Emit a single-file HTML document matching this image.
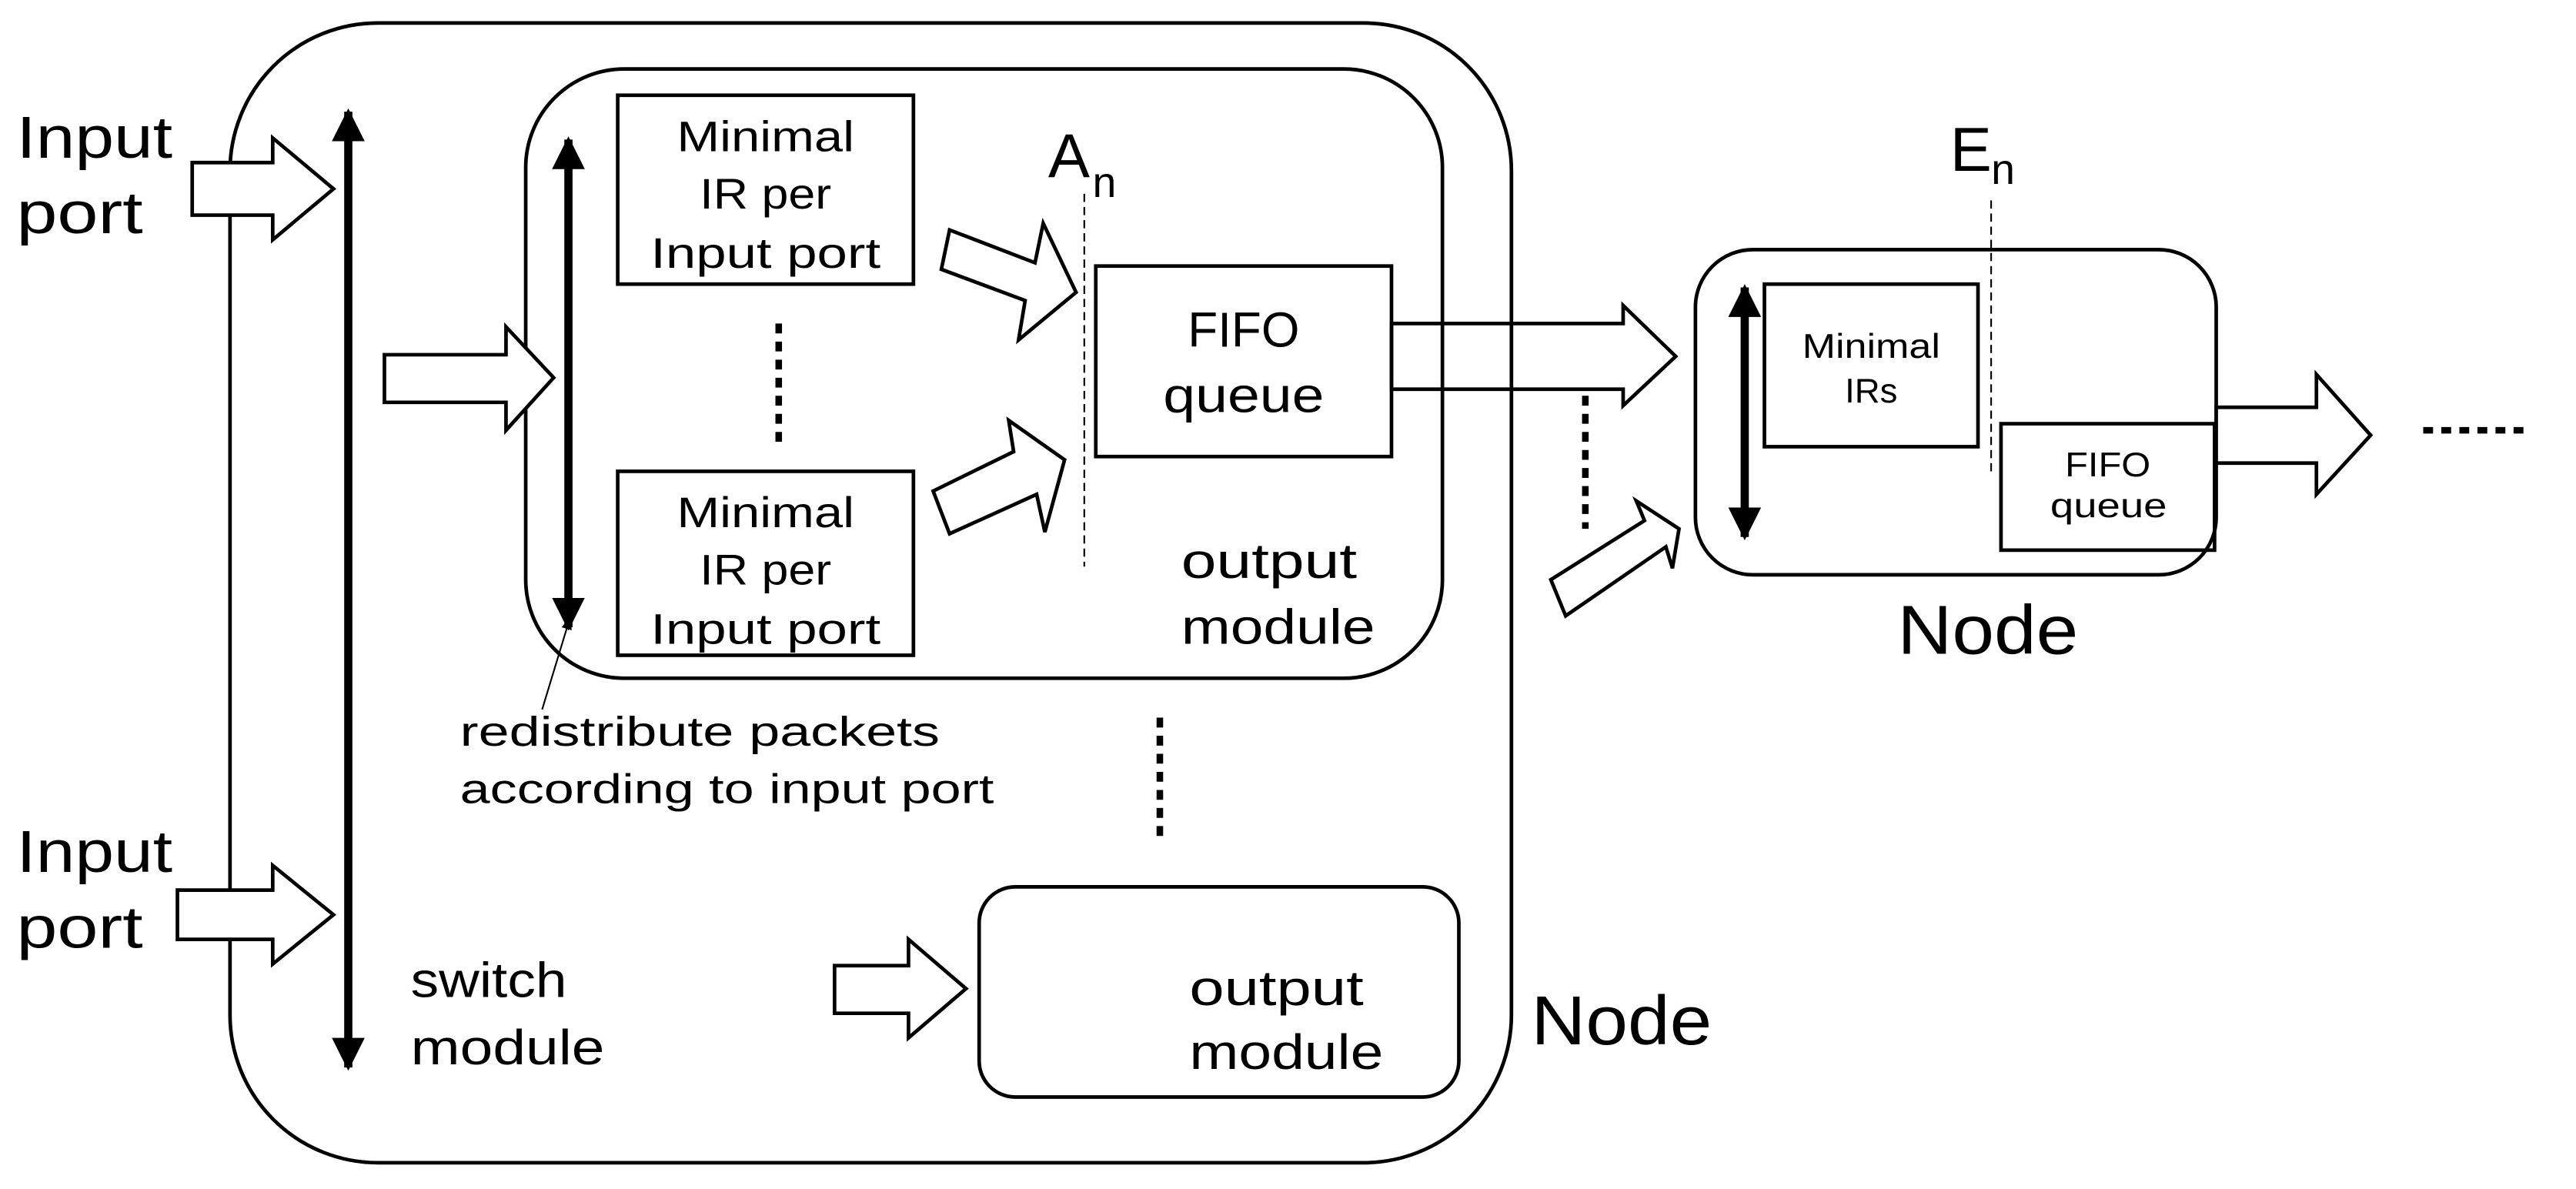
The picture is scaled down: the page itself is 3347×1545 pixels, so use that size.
<!DOCTYPE html>
<html><head><style>html,body{margin:0;padding:0;background:#fff}svg{display:block}text{font-family:"Liberation Sans",sans-serif;fill:#000}</style></head><body>
<svg width="3347" height="1545" viewBox="0 0 1568 724" preserveAspectRatio="none" xmlns="http://www.w3.org/2000/svg">
<defs>
<marker id="ah" viewBox="0 0 10 10" refX="9" refY="5" markerWidth="4" markerHeight="4" orient="auto-start-reverse"><path d="M0,0L10,5L0,10z" fill="#000"/></marker>
<marker id="sm" viewBox="0 0 10 10" refX="9" refY="5" markerWidth="8" markerHeight="8" orient="auto"><path d="M0,1L10,5L0,9z" fill="#000"/></marker>
</defs>
<g fill="none" stroke="#000" stroke-width="2.2">
<rect x="140" y="14" width="780" height="694" rx="90"/>
<rect x="320" y="42" width="558" height="371" rx="60" fill="#fff"/>
<rect x="596" y="540" width="292" height="128" rx="22"/>
<rect x="1032" y="152" width="317" height="198" rx="35"/>
<rect x="376" y="58" width="180" height="115"/>
<rect x="376" y="287" width="180" height="112"/>
<rect x="667" y="162" width="180" height="116"/>
<rect x="1074" y="173" width="130" height="99"/>
<rect x="1218" y="258" width="130" height="77"/>
</g>
<g stroke="#000" stroke-width="5" fill="none">
<line x1="212" y1="68" x2="212" y2="650" marker-start="url(#ah)" marker-end="url(#ah)"/>
<line x1="346" y1="85" x2="346" y2="382" marker-start="url(#ah)" marker-end="url(#ah)"/>
<line x1="1062" y1="175" x2="1062" y2="327" marker-start="url(#ah)" marker-end="url(#ah)"/>
</g>
<g stroke="#000" stroke-width="1" stroke-dasharray="5,3">
<line x1="660" y1="118" x2="660" y2="345"/>
<line x1="1212" y1="122" x2="1212" y2="290"/>
</g>
<g stroke="#000" stroke-width="4" stroke-dasharray="6,5">
<line x1="474" y1="197" x2="474" y2="272"/>
<line x1="706" y1="437" x2="706" y2="512"/>
<line x1="965" y1="241" x2="965" y2="322"/>
<line x1="1475" y1="262" x2="1540" y2="262"/>
</g>
<g fill="#fff" stroke="#000" stroke-width="2.2" stroke-linejoin="miter">
<path d="M117,99H166V84L203,115L166,146V131H117Z"/>
<path d="M108,542H166V527L203,557L166,587V572H108Z"/>
<path d="M234,216H308V199L337,230L308,262V245H234Z"/>
<path d="M508,588H553V572L588,602L553,632V617H508Z"/>
<path d="M1349,248H1410V228L1443,265L1410,301V282H1349Z"/>
<path d="M847,197H988V186L1020,217L988,247V237H847Z" fill="none"/>
<path d="M578,140L630,160L635,136L655,178L620,207L624,183L573,164Z"/>
<path d="M568,299L617,275L614,256L648,280L636,324L631,301L578,325Z"/>
<path d="M944,353L1001,317L996,305L1022,322L1018,346L1014,333L953,375Z"/>
</g>
<line x1="330" y1="432" x2="347" y2="376" stroke="#000" stroke-width="1" marker-end="url(#sm)"/>
<g font-size="36" lengthAdjust="spacingAndGlyphs">
<text x="10" y="96" textLength="95" lengthAdjust="spacingAndGlyphs">Input</text><text x="10" y="142" textLength="77" lengthAdjust="spacingAndGlyphs">port</text>
<text x="10" y="531" textLength="95" lengthAdjust="spacingAndGlyphs">Input</text><text x="10" y="577" textLength="77" lengthAdjust="spacingAndGlyphs">port</text></g>
<text x="932" y="636" font-size="42" textLength="110" lengthAdjust="spacingAndGlyphs">Node</text>
<text x="1155" y="398" font-size="42" textLength="110" lengthAdjust="spacingAndGlyphs">Node</text>
<g font-size="30">
<text x="250" y="607" textLength="95" lengthAdjust="spacingAndGlyphs">switch</text><text x="250" y="648" textLength="118" lengthAdjust="spacingAndGlyphs">module</text>
<text x="719" y="352" textLength="107" lengthAdjust="spacingAndGlyphs">output</text><text x="719" y="392" textLength="118" lengthAdjust="spacingAndGlyphs">module</text>
<text x="724" y="612" textLength="106" lengthAdjust="spacingAndGlyphs">output</text><text x="724" y="651" textLength="118" lengthAdjust="spacingAndGlyphs">module</text></g>
<g font-size="25">
<text x="280" y="454" textLength="292" lengthAdjust="spacingAndGlyphs">redistribute packets</text>
<text x="280" y="489" textLength="325" lengthAdjust="spacingAndGlyphs">according to input port</text></g>
<g font-size="26">
<text x="412" y="92" textLength="108" lengthAdjust="spacingAndGlyphs">Minimal</text><text x="426" y="127" textLength="80" lengthAdjust="spacingAndGlyphs">IR per</text><text x="396" y="163" textLength="140" lengthAdjust="spacingAndGlyphs">Input port</text>
<text x="412" y="321" textLength="108" lengthAdjust="spacingAndGlyphs">Minimal</text><text x="426" y="356" textLength="80" lengthAdjust="spacingAndGlyphs">IR per</text><text x="396" y="392" textLength="140" lengthAdjust="spacingAndGlyphs">Input port</text>
</g>
<g font-size="30"><text x="723" y="211" textLength="68" lengthAdjust="spacingAndGlyphs">FIFO</text><text x="708" y="251" textLength="98" lengthAdjust="spacingAndGlyphs">queue</text></g>
<g font-size="21">
<text x="1097" y="218" textLength="84" lengthAdjust="spacingAndGlyphs">Minimal</text><text x="1123" y="245" textLength="32" lengthAdjust="spacingAndGlyphs">IRs</text>
<text x="1257" y="290" textLength="52" lengthAdjust="spacingAndGlyphs">FIFO</text><text x="1248" y="315" textLength="71" lengthAdjust="spacingAndGlyphs">queue</text></g>
<text x="638" y="108" font-size="38">A</text><text x="665" y="120" font-size="26">n</text>
<text x="1187" y="104" font-size="38">E</text><text x="1212" y="112" font-size="26">n</text>
</svg>
</body></html>
